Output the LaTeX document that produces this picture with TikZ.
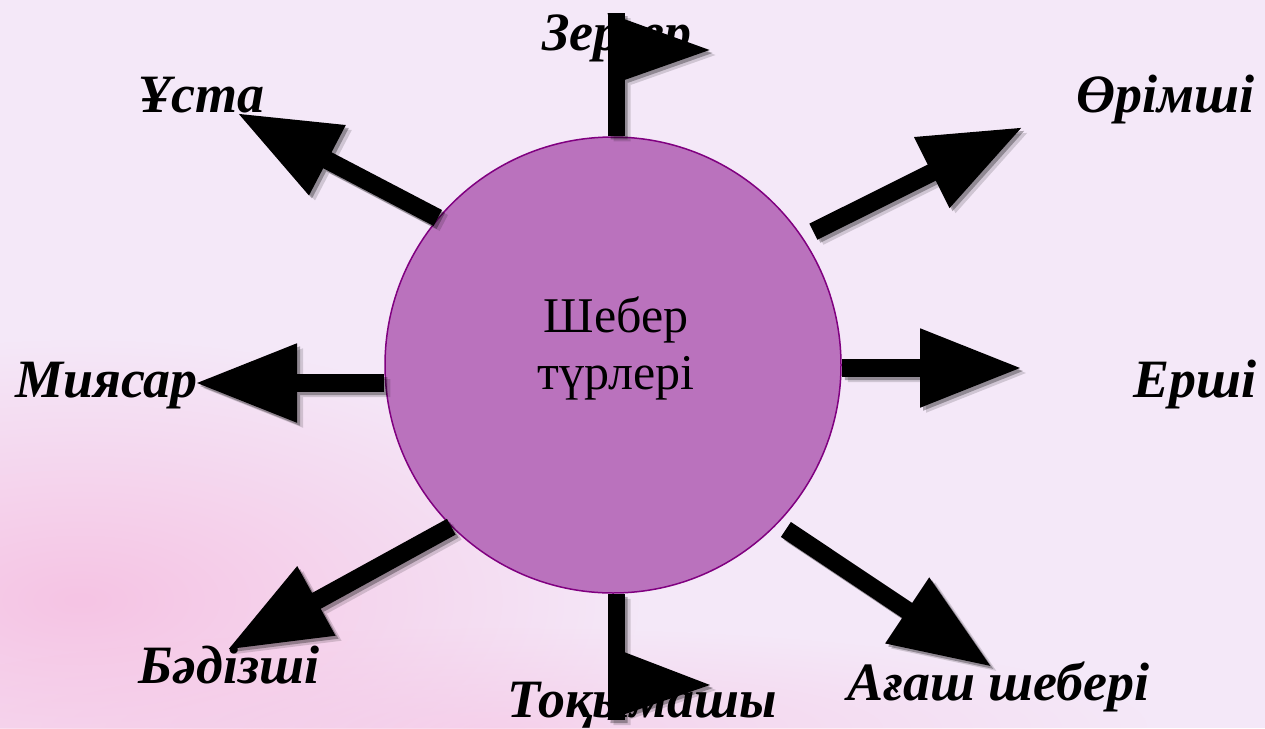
\documentclass[tikz,border=0pt]{standalone}
\usepackage{fontspec}
\setmainfont{Liberation Serif}
\usetikzlibrary{arrows.meta}
\usetikzlibrary{fadings}
\usetikzlibrary{calc}

\definecolor{bgLavender}{RGB}{244,232,248}
\definecolor{bgPink}{RGB}{246,196,228}
\definecolor{hubFill}{RGB}{186,114,189}
\definecolor{hubLine}{RGB}{128,0,128}

\tikzfading[name=softspot, inner color=transparent!0, outer color=transparent!100]

\tikzset{
  spoke/.style={line width=18pt, -{Triangle[length=102pt,width=74pt]}},
  stem/.style={line width=17pt},
  kindtext/.style={font=\fontsize{54}{62}\selectfont\bfseries\itshape, anchor=base west, inner sep=0pt},
}

% all black arrows and flags, drawn twice (shadow + solid)
\newcommand{\drawspokes}{%
  \foreach \from/\to/\cut in {hub.140/ustaTip/0, hub.34/orimTip/12, hub.-44/agashTip/10, hub.225/badizTip/0} {
    \draw[spoke, shorten <=\cut pt] (\from) -- (\to);
  }
  \draw[spoke] (hub.east |- ershiTip) -- (ershiTip);
  \draw[spoke] (hub.west |- miyasarTip) -- (miyasarTip);
  % flags
  \draw[stem] (zergerTop |- hub.north) -- (zergerTop);
  \fill ($(zergerTop)+(-8.5,0)$) -- ++(102,37) -- ++(-85,30) -- cycle;
  \draw[stem] (tokTip |- hub.south) -- (tokTip);
  \fill ($(tokTip)+(-8.5,0)$) -- ++(16.5,-68) -- ++(86,33) -- cycle;
}

\begin{document}
\begin{tikzpicture}[x=1pt, y=-1pt]
  % Background
  \useasboundingbox (0,0) rectangle (1265,728);
  \fill[bgLavender] (0,0) rectangle (1265,728);
  \fill[bgPink, path fading=softspot] (80,600) ellipse [x radius=560, y radius=260];
  \fill[bgPink, opacity=.6, path fading=softspot] (500,728) ellipse [x radius=650, y radius=100];

  % Central circle
  \node[circle, draw=hubLine, line width=1.5pt, fill=hubFill, minimum size=456pt, inner sep=0pt] (hub) at (613,365) {};
  \node[font=\fontsize{50}{57}\selectfont, align=center] (title) at (616,348) {Шебер\\түрлері};

  % Arrow tips
  \coordinate (ustaTip) at (237,113);
  \coordinate (orimTip) at (1023,127);
  \coordinate (ershiTip) at (1022,368);
  \coordinate (agashTip) at (992,667);
  \coordinate (badizTip) at (227,650);
  \coordinate (miyasarTip) at (195,383);
  \coordinate (zergerTop) at (616,13);
  \coordinate (tokTip) at (616,720);

  % Labels
  \foreach \name/\x/\y/\txt in {usta/138/112/Ұста, orim/1076/112/Өрімші, ershi/1133/397/Ерші,
      agash/847/700/Ағаш шебері, badiz/138/683/Бәдізші, miyasar/15/397/Миясар,
      zerger/542/50/Зергер, tok/507/717/Тоқымашы} {
    \node[kindtext] (\name) at (\x,\y) {\txt};
  }

  % Shadows
  \begin{scope}[transform canvas={xshift=6pt, yshift=-5pt}]
    \begin{scope}[transparency group, opacity=.15]
      \drawspokes
    \end{scope}
  \end{scope}
  \begin{scope}[transform canvas={xshift=3pt, yshift=-3pt}]
    \begin{scope}[transparency group, opacity=.3]
      \drawspokes
    \end{scope}
  \end{scope}

  % Arrows
  \drawspokes
\end{tikzpicture}
\end{document}
